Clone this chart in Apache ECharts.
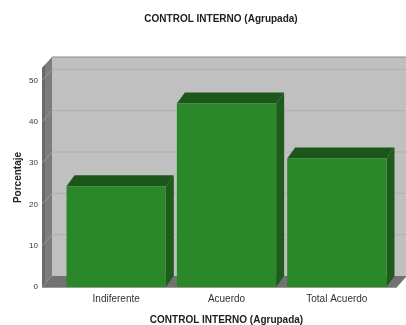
<!DOCTYPE html>
<html><head><meta charset="utf-8">
<script src="https://cdn.jsdelivr.net/npm/echarts@6/dist/echarts.min.js"></script>
<style>html,body{margin:0;padding:0;background:#fff}#c{width:406px;height:325px}</style>
</head><body><div id="c"></div>
<script>
var categories = ['Indiferente', 'Acuerdo', 'Total Acuerdo'];
var percentages = [24.4, 44.4, 31.1];
var yTicks = [0, 10, 20, 30, 40, 50];
var titleText = 'CONTROL INTERNO (Agrupada)';
var xName = 'CONTROL INTERNO (Agrupada)';
var yName = 'Porcentaje';

var DX = 10, DY = 11;      // wall depth
var BDX = 8, BDY = 11;     // bar depth
var font = 'Liberation Sans, Arial, sans-serif';

var chart = echarts.init(document.getElementById('c'), null, {renderer: 'canvas'});

function wallsRender(params, api) {
  var cs = params.coordSys;
  var fl = cs.x - 19, fr = cs.x + cs.width + 5;
  var y0 = api.coord([0, 0])[1];
  var yTop = cs.y;
  var children = [];
  children.push({type: 'rect', shape: {x: fl + DX, y: yTop - DY, width: fr - fl, height: y0 - yTop},
    style: {fill: '#c0c0c0'}});
  children.push({type: 'polygon', shape: {points: [[fl, yTop], [fl + DX, yTop - DY], [fl + DX, y0 - DY], [fl, y0]]},
    style: {fill: '#7c7c7c'}});
  children.push({type: 'polygon', shape: {points: [[fl, yTop], [fl + 3, yTop - 3.3], [fl + 3, y0 - 3.3], [fl, y0]]},
    style: {fill: '#6a6a6a'}});
  for (var i = 1; i < yTicks.length; i++) {
    var yy = api.coord([0, yTicks[i]])[1];
    children.push({type: 'line', shape: {x1: fl + DX, y1: yy - DY, x2: fr + DX, y2: yy - DY},
      style: {stroke: '#b0b0b0', lineWidth: 1}});
    children.push({type: 'line', shape: {x1: fl, y1: yy, x2: fl + DX, y2: yy - DY},
      style: {stroke: '#9a9a9a', lineWidth: 1}});
  }
  children.push({type: 'polygon', shape: {points: [[fl, y0], [fl + DX, y0 - DY], [fr + DX, y0 - DY], [fr, y0]]},
    style: {fill: '#727272'}});
  children.push({type: 'line', shape: {x1: fl + DX, y1: yTop - DY, x2: fr + DX, y2: yTop - DY},
    style: {stroke: '#8a8a8a', lineWidth: 1}});
  children.push({type: 'line', shape: {x1: fl, y1: y0 + 0.5, x2: fr, y2: y0 + 0.5},
    style: {stroke: '#9a9a9a', lineWidth: 1}});
  return {type: 'group', children: children};
}

function barRender(params, api) {
  var idx = api.value(0);
  var top = api.coord([idx, api.value(1)]);
  var bot = api.coord([idx, 0]);
  var w = api.size([1, 0])[0] * 0.9;
  var l = top[0] - w / 2, r = top[0] + w / 2, t = top[1], b = bot[1];
  return {type: 'group', children: [
    {type: 'polygon', shape: {points: [[r, t], [r + BDX, t - BDY], [r + BDX, b - BDY], [r, b]]},
      style: {fill: '#1d5c1b'}},
    {type: 'polygon', shape: {points: [[l, t], [l + BDX, t - BDY], [r + BDX, t - BDY], [r, t]]},
      style: {fill: '#1c561a'}},
    {type: 'rect', shape: {x: l, y: t, width: w, height: b - t},
      style: {fill: '#2a882a'}}
  ]};
}

chart.setOption({
  animation: false,
  backgroundColor: '#ffffff',
  title: {text: titleText, left: 216, top: 9, textAlign: 'center',
    textStyle: {fontFamily: font, fontSize: 10, fontWeight: 'bold', color: '#222'}},
  grid: {left: 61, right: 14, top: 68, bottom: 38, containLabel: false, outerBoundsMode: 'none'},
  xAxis: {type: 'category', data: categories,
    axisLine: {show: false}, axisTick: {show: false},
    axisLabel: {margin: 7, fontFamily: font, fontSize: 10, color: '#333'},
    name: xName, nameLocation: 'middle', nameGap: 28, nameMoveOverlap: false,
    nameTextStyle: {fontFamily: font, fontSize: 10, fontWeight: 'bold', color: '#222'}},
  yAxis: {type: 'value', min: 0, max: 53, interval: 10,
    axisLine: {show: false}, axisTick: {show: false}, splitLine: {show: false},
    axisLabel: {margin: 23, fontFamily: font, fontSize: 8, color: '#333',
      showMaxLabel: false},
    name: yName, nameLocation: 'middle', nameGap: 38, nameMoveOverlap: false,
    nameTextStyle: {fontFamily: font, fontSize: 10, fontWeight: 'bold', color: '#222'}},
  series: [
    {type: 'custom', renderItem: wallsRender, data: [[0]], z: 1, silent: true, clip: false},
    {type: 'custom', renderItem: barRender, z: 2, clip: false,
      encode: {x: 0, y: 1},
      data: categories.map(function (c, i) { return [i, percentages[i]]; })}
  ]
});
</script>
</body></html>
